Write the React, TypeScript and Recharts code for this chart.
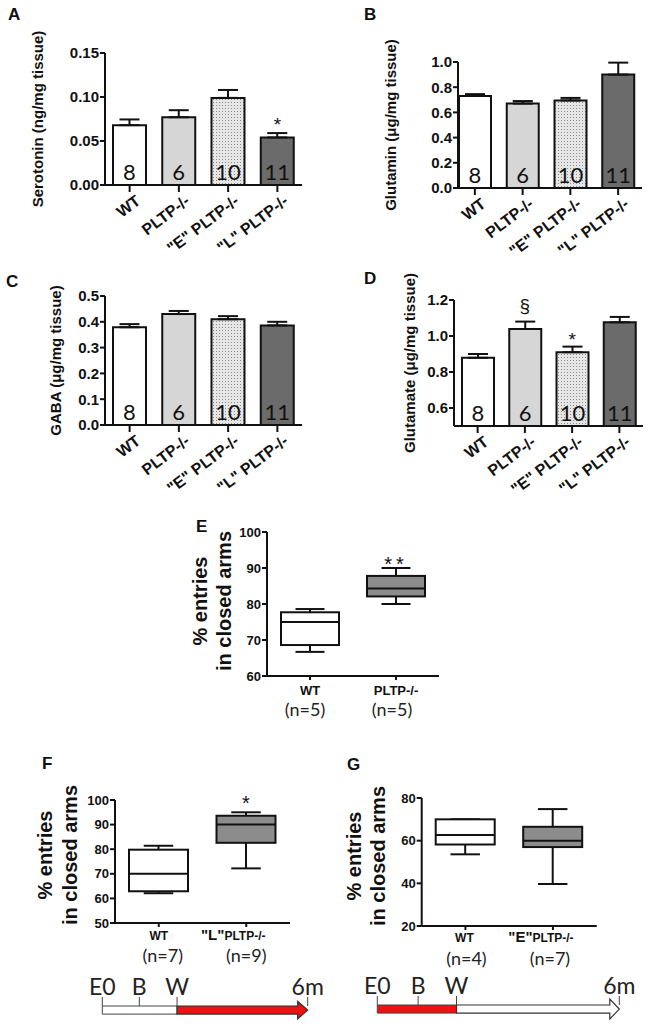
import React from 'react';
import { BarChart, Bar, XAxis, YAxis, ErrorBar, LabelList, ReferenceDot, Cell } from 'recharts';

const SANS = '"Liberation Sans", Arial, Helvetica, sans-serif';
const HUM = 'Lato, "Open Sans", sans-serif';
const INK = '#111111';

// ---------- data: panels A-D ----------
const groups = ['WT', 'PLTP-/-', '"E" PLTP-/-', '"L" PLTP-/-'];
const groupN = [8, 6, 10, 11];

const serotonin = [0.068, 0.077, 0.099, 0.054];
const serotoninSem = [0.0065, 0.008, 0.009, 0.005];
const serotoninSig = ['', '', '', '*'];

const glutamin = [0.73, 0.67, 0.695, 0.9];
const glutaminSem = [0.015, 0.02, 0.02, 0.095];

const gaba = [0.379, 0.43, 0.41, 0.386];
const gabaSem = [0.012, 0.012, 0.012, 0.014];

const glutamate = [0.879, 1.039, 0.91, 1.076];
const glutamateSem = [0.021, 0.041, 0.031, 0.03];
const glutamateSig = ['', '§', '*', ''];

// ---------- data: panels E-G (box plots) ----------
const boxGroupsE = ['WT', 'PLTP-/-'];
const boxNE = [5, 5];
const minE = [66.7, 80];
const q1E = [68.6, 82.1];
const medE = [75, 84.3];
const q3E = [77.7, 87.8];
const maxE = [78.6, 90];
const sigE = ['', '**'];

const boxGroupsF = ['WT', '"L"PLTP-/-'];
const boxNF = [7, 9];
const minF = [62.1, 72.2];
const q1F = [62.9, 82.6];
const medF = [70, 90];
const q3F = [79.8, 93.6];
const maxF = [81.4, 95];
const sigF = ['', '*'];

const boxGroupsG = ['WT', '"E"PLTP-/-'];
const boxNG = [4, 7];
const minG = [53.6, 39.7];
const q1G = [58.2, 57];
const medG = [62.6, 60];
const q3G = [70, 66.5];
const maxG = [70, 74.8];
const sigG = ['', ''];

// ---------- data: timelines ----------
const timelineLabels = ['E0', 'B', 'W', '6m'];
const timelineF = [0, 1, 2.02, 5.55];
const timelineG = [0, 1.02, 1.98, 6.05];

// ---------- styles ----------
const boxFills = ['#ffffff', '#8c8c8c'];
const RED = '#ee1111';

function AxisTitle(props: any) {
  const { lines, xs, cy, size } = props;
  return (
    <g>
      {lines.map((l: string, i: number) => (
        <text
          key={i}
          x={xs[i]}
          y={cy}
          transform={`rotate(-90 ${xs[i]} ${cy})`}
          textAnchor="middle"
          dominantBaseline="central"
          fontSize={size}
          fontWeight={700}
          fontFamily={SANS}
          fill={INK}
        >
          {l}
        </text>
      ))}
    </g>
  );
}

function RotTick(props: any) {
  const { x, y, payload } = props;
  return (
    <text
      x={0}
      y={0}
      transform={`translate(${x + 12},${y + 9}) rotate(-37)`}
      textAnchor="end"
      fontSize={16}
      fontWeight={700}
      fontFamily={SANS}
      fill={INK}
    >
      {payload.value}
    </text>
  );
}

type BarPanelProps = {
  id: string;
  left: number; top: number; width: number; height: number;
  plotLeft: number; plotTop: number; plotRight: number; plotBottom: number;
  domain: [number, number]; ticks: number[]; digits: number;
  values: number[]; sems: number[]; sig?: string[]; sigOffset?: number[];
  title: string; titleX: number; barSize: number; padLeft?: number;
};

function BarPanel(p: BarPanelProps) {
  const data = groups.map((name, i) => ({ name, value: p.values[i], err: [0, p.sems[i]], n: groupN[i] }));
  const fills = ['#ffffff', '#d6d6d6', `url(#stip-${p.id})`, '#6b6b6b'];
  const yw = p.plotLeft - p.left;
  const xh = p.top + p.height - p.plotBottom;
  const margin = { top: p.plotTop - p.top, right: p.left + p.width - p.plotRight, bottom: 0, left: 0 };
  const cy = (p.plotTop + p.plotBottom) / 2 - p.top;
  return (
    <div style={{ position: 'absolute', left: p.left, top: p.top }}>
      <BarChart width={p.width} height={p.height} data={data} margin={margin} barSize={p.barSize}>
        <defs>
          <pattern id={`stip-${p.id}`} patternUnits="userSpaceOnUse" width="3" height="3">
            <rect width="3" height="3" fill="#e6e6e6" />
            <rect x="0" y="0" width="1" height="1" fill="#8a8a8a" />
          </pattern>
        </defs>
        <XAxis
          dataKey="name"
          height={xh}
          interval={0}
          tick={<RotTick />}
          tickSize={7}
          tickMargin={2}
          tickLine={{ stroke: INK, strokeWidth: 2 }}
          axisLine={{ stroke: INK, strokeWidth: 2 }}
          padding={{ left: p.padLeft || 0, right: 0 }}
        />
        <YAxis
          type="number"
          width={yw}
          domain={p.domain}
          ticks={p.ticks}
          interval={0}
          tickFormatter={(v: number) => v.toFixed(p.digits)}
          tick={{ fontSize: 15, fontWeight: 700, fill: INK, fontFamily: SANS }}
          tickSize={5}
          tickMargin={1}
          tickLine={{ stroke: INK, strokeWidth: 2 }}
          axisLine={{ stroke: INK, strokeWidth: 2 }}
          label={<AxisTitle lines={[p.title]} xs={[p.titleX - p.left]} cy={cy} size={15} />}
        />
        <Bar dataKey="value" stroke={INK} strokeWidth={2} isAnimationActive={false}>
          {data.map((d, i) => (
            <Cell key={i} fill={fills[i]} />
          ))}
          <ErrorBar dataKey="err" width={10} stroke={INK} strokeWidth={2} direction="y" />
          <LabelList dataKey="n" position="insideBottom" offset={5} fill="#111" fontSize={22} fontFamily={HUM} />
        </Bar>
        {p.sig
          ? data.map((d, i) =>
              p.sig![i] ? (
                <ReferenceDot
                  key={`s${i}`}
                  x={d.name}
                  y={d.value + p.sems[i]}
                  r={0}
                  stroke="none"
                  fill="none"
                  label={{
                    value: p.sig![i],
                    position: 'top',
                    offset: p.sigOffset ? p.sigOffset[i] : 3,
                    fontSize: 19,
                    fill: INK,
                    fontFamily: SANS,
                  }}
                />
              ) : null
            )
          : null}
      </BarChart>
    </div>
  );
}

function BoxShape(props: any) {
  const { x, y, width, height, payload, index, sigDy } = props;
  const top = Math.min(y, y + height);
  const bot = Math.max(y, y + height);
  const span = payload.max - payload.min;
  const px = (v: number) => bot - ((v - payload.min) / span) * (bot - top);
  const cx = x + width / 2;
  const cap = width / 4;
  const sw = 2;
  return (
    <g>
      <line x1={cx} x2={cx} y1={px(payload.max)} y2={px(payload.q3)} stroke={INK} strokeWidth={sw} />
      <line x1={cx} x2={cx} y1={px(payload.q1)} y2={px(payload.min)} stroke={INK} strokeWidth={sw} />
      <line x1={cx - cap} x2={cx + cap} y1={px(payload.max)} y2={px(payload.max)} stroke={INK} strokeWidth={sw} />
      <line x1={cx - cap} x2={cx + cap} y1={px(payload.min)} y2={px(payload.min)} stroke={INK} strokeWidth={sw} />
      <rect
        x={x}
        y={px(payload.q3)}
        width={width}
        height={px(payload.q1) - px(payload.q3)}
        fill={boxFills[index]}
        stroke={INK}
        strokeWidth={sw}
      />
      <line x1={x} x2={x + width} y1={px(payload.med)} y2={px(payload.med)} stroke={INK} strokeWidth={sw} />
      {payload.sig ? (
        <text
          x={cx}
          y={px(payload.max) + sigDy}
          textAnchor="middle"
          fontSize={20}
          fontFamily={SANS}
          fill={INK}
          letterSpacing={payload.sig.length > 1 ? 4 : 0}
        >
          {payload.sig}
        </text>
      ) : null}
    </g>
  );
}

function BoxTick(props: any) {
  const { x, y, payload, index, ns, nameDy, nDy, nameDx, nDx, nameSize } = props;
  const name: string = payload.value;
  let content: any = name;
  if (name.startsWith('"')) {
    content = [
      <tspan key="q" fontSize={nameSize + 3}>{name.slice(0, 3)}</tspan>,
      <tspan key="r" fontSize={nameSize}>{name.slice(3)}</tspan>,
    ];
  }
  return (
    <g>
      <text
        x={x + nameDx[index]}
        y={y + nameDy}
        textAnchor="middle"
        fontSize={nameSize}
        fontWeight={700}
        fontFamily={SANS}
        fill={INK}
      >
        {content}
      </text>
      <text x={x + nDx[index]} y={y + nDy} textAnchor="middle" fontSize={18} fontFamily={HUM} fill="#222">
        {`(n=${ns[index]})`}
      </text>
    </g>
  );
}

type BoxPanelProps = {
  left: number; top: number; width: number; height: number;
  plotLeft: number; plotTop: number; plotRight: number; plotBottom: number;
  domain: [number, number]; ticks: number[];
  names: string[]; ns: number[]; mins: number[]; q1s: number[]; meds: number[]; q3s: number[]; maxs: number[]; sigs: string[];
  sigDy: number; titleXs: number[]; titleCy: number;
  nameDy: number; nDy: number; nameDx: number[]; nDx: number[]; nameSize: number; boxW: number;
};

function BoxPanel(p: BoxPanelProps) {
  const data = p.names.map((name, i) => ({
    name, n: p.ns[i], min: p.mins[i], q1: p.q1s[i], med: p.meds[i], q3: p.q3s[i], max: p.maxs[i], sig: p.sigs[i],
  }));
  const yw = p.plotLeft - p.left;
  const xh = p.top + p.height - p.plotBottom;
  const margin = { top: p.plotTop - p.top, right: p.left + p.width - p.plotRight, bottom: 0, left: 0 };
  return (
    <div style={{ position: 'absolute', left: p.left, top: p.top }}>
      <BarChart width={p.width} height={p.height} data={data} margin={margin} barSize={p.boxW}>
        <XAxis
          dataKey="name"
          height={xh}
          interval={0}
          tickSize={4}
          tickMargin={0}
          tickLine={{ stroke: INK, strokeWidth: 2 }}
          axisLine={{ stroke: INK, strokeWidth: 2 }}
          tick={<BoxTick ns={p.ns} nameDy={p.nameDy} nDy={p.nDy} nameDx={p.nameDx} nDx={p.nDx} nameSize={p.nameSize} />}
        />
        <YAxis
          type="number"
          width={yw}
          domain={p.domain}
          ticks={p.ticks}
          interval={0}
          tick={{ fontSize: 13, fontWeight: 700, fill: INK, fontFamily: SANS }}
          tickSize={5}
          tickMargin={1}
          tickLine={{ stroke: INK, strokeWidth: 2 }}
          axisLine={{ stroke: INK, strokeWidth: 2 }}
          label={
            <AxisTitle
              lines={['% entries', 'in closed arms']}
              xs={p.titleXs.map((v) => v - p.left)}
              cy={p.titleCy - p.top}
              size={20}
            />
          }
        />
        <Bar
          dataKey={(d: any) => [d.min, d.max]}
          isAnimationActive={false}
          shape={(props: any) => <BoxShape {...props} sigDy={p.sigDy} />}
        />
      </BarChart>
    </div>
  );
}

function ArrowShape(props: any) {
  const { x, y, width, height, fill, headL, headHalf } = props;
  const cy = y + height / 2;
  const hx = x + width - headL;
  const pts = [
    [x, y], [hx, y], [hx, cy - headHalf], [x + width, cy], [hx, cy + headHalf], [hx, y + height], [x, y + height],
  ].map((q) => q.join(',')).join(' ');
  return <polygon points={pts} fill={fill} stroke="#333" strokeWidth={1.2} />;
}

function Timeline(props: any) {
  const { left, top, width, plotLeft, plotRight, pos, redFirst, headL, headHalf } = props;
  const data = [{ name: 't', a: pos[2] - pos[0], b: pos[3] - pos[2] }];
  return (
    <div style={{ position: 'absolute', left, top }}>
      <BarChart
        layout="vertical"
        width={width}
        height={57}
        data={data}
        margin={{ top: 6, right: left + width - plotRight, left: plotLeft - left, bottom: 12 }}
        barSize={9}
        barCategoryGap={0}
      >
        <XAxis
          type="number"
          orientation="top"
          domain={[pos[0], pos[3]]}
          ticks={pos}
          interval={0}
          height={30}
          axisLine={false}
          tickSize={9}
          tickMargin={2}
          tickLine={{ stroke: '#444', strokeWidth: 1 }}
          tick={{ fontSize: 23, fill: '#222', fontFamily: HUM }}
          tickFormatter={(v: number, i: number) => timelineLabels[i]}
        />
        <YAxis type="category" dataKey="name" hide />
        <Bar dataKey="a" stackId="t" fill={redFirst ? RED : '#ffffff'} stroke="#444" strokeWidth={1} isAnimationActive={false} />
        <Bar
          dataKey="b"
          stackId="t"
          fill={redFirst ? '#ffffff' : RED}
          isAnimationActive={false}
          shape={(sp: any) => <ArrowShape {...sp} headL={headL} headHalf={headHalf} />}
        />
      </BarChart>
    </div>
  );
}

const letterStyle = (left: number, top: number): React.CSSProperties => ({
  position: 'absolute', left, top, fontFamily: SANS, fontWeight: 700, fontSize: 17, lineHeight: '17px', color: INK,
});

export default function App() {
  return (
    <div style={{ position: 'absolute', left: 0, top: 0, width: 651, height: 1027, background: '#ffffff', overflow: 'hidden' }}>
      <BarPanel
        id="a" left={0} top={0} width={310} height={275}
        plotLeft={105} plotTop={53} plotRight={302} plotBottom={185}
        domain={[0, 0.15]} ticks={[0, 0.05, 0.1, 0.15]} digits={2}
        values={serotonin} sems={serotoninSem} sig={serotoninSig} sigOffset={[0, 0, 0, 2]}
        title="Serotonin (ng/mg tissue)" titleX={37} barSize={33}
      />
      <BarPanel
        id="b" left={330} top={0} width={320} height={275}
        plotLeft={458} plotTop={62} plotRight={642} plotBottom={188}
        domain={[0, 1]} ticks={[0, 0.2, 0.4, 0.6, 0.8, 1.0]} digits={1}
        values={glutamin} sems={glutaminSem}
        title="Glutamin (μg/mg tissue)" titleX={390} barSize={32} padLeft={-7}
      />
      <BarPanel
        id="c" left={0} top={255} width={310} height={265}
        plotLeft={105} plotTop={296} plotRight={302} plotBottom={425}
        domain={[0, 0.5]} ticks={[0, 0.1, 0.2, 0.3, 0.4, 0.5]} digits={1}
        values={gaba} sems={gabaSem}
        title="GABA (μg/mg tissue)" titleX={55} barSize={33}
      />
      <BarPanel
        id="d" left={330} top={255} width={320} height={265}
        plotLeft={454} plotTop={300} plotRight={643} plotBottom={426}
        domain={[0.5, 1.2]} ticks={[0.6, 0.8, 1.0, 1.2]} digits={1}
        values={glutamate} sems={glutamateSem} sig={glutamateSig} sigOffset={[0, 10, 1, 0]}
        title="Glutamate (μg/mg tissue)" titleX={409} barSize={32}
      />
      <BoxPanel
        left={150} top={500} width={300} height={230}
        plotLeft={267} plotTop={532} plotRight={439} plotBottom={676}
        domain={[60, 100]} ticks={[60, 70, 80, 90, 100]}
        names={boxGroupsE} ns={boxNE} mins={minE} q1s={q1E} meds={medE} q3s={q3E} maxs={maxE} sigs={sigE}
        sigDy={3} titleXs={[199.5, 223.5]} titleCy={601}
        nameDy={15} nDy={36} nameDx={[0, 0]} nDx={[-5, -4]} nameSize={13} boxW={58}
      />
      <BoxPanel
        left={0} top={780} width={300} height={190}
        plotLeft={115} plotTop={800} plotRight={290} plotBottom={923}
        domain={[50, 100]} ticks={[50, 60, 70, 80, 90, 100]}
        names={boxGroupsF} ns={boxNF} mins={minF} q1s={q1F} meds={medF} q3s={q3F} maxs={maxF} sigs={sigF}
        sigDy={-2} titleXs={[45, 70]} titleCy={855}
        nameDy={13} nDy={35} nameDx={[0, -13]} nDx={[4, 0]} nameSize={12} boxW={59}
      />
      <BoxPanel
        left={330} top={780} width={290} height={190}
        plotLeft={421.7} plotTop={798} plotRight={596.7} plotBottom={926}
        domain={[20, 80]} ticks={[20, 40, 60, 80]}
        names={boxGroupsG} ns={boxNG} mins={minG} q1s={q1G} meds={medG} q3s={q3G} maxs={maxG} sigs={sigG}
        sigDy={-2} titleXs={[354, 378]} titleCy={856}
        nameDy={11.5} nDy={35} nameDx={[-1, -12]} nDx={[1, -3]} nameSize={12} boxW={59}
      />
      <Timeline left={70} top={970} width={260} plotLeft={102.3} plotRight={307.7} pos={timelineF} redFirst={false} headL={10} headHalf={8.8} />
      <Timeline left={345} top={969} width={300} plotLeft={377.3} plotRight={619.3} pos={timelineG} redFirst={true} headL={9.5} headHalf={10} />

      <div style={letterStyle(8, 6)}>A</div>
      <div style={letterStyle(364, 6)}>B</div>
      <div style={letterStyle(6, 273)}>C</div>
      <div style={letterStyle(364, 270)}>D</div>
      <div style={letterStyle(196, 518)}>E</div>
      <div style={letterStyle(42, 755)}>F</div>
      <div style={letterStyle(347, 756)}>G</div>
    </div>
  );
}
